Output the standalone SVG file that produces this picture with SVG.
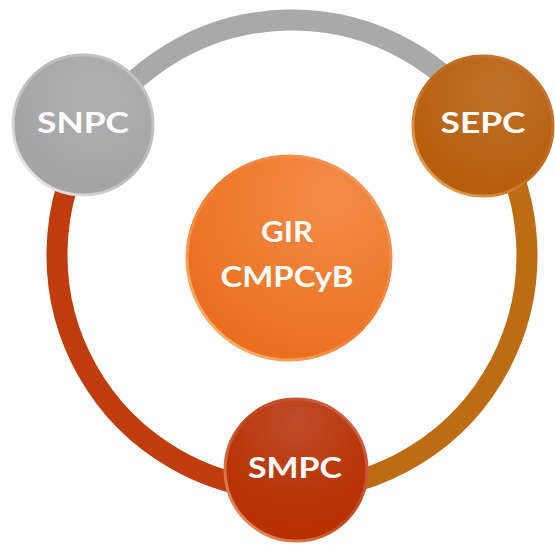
<svg xmlns="http://www.w3.org/2000/svg" width="555" height="545" viewBox="0 0 555 545">
<defs>
<style>
.lbl{font-family:Lato,"Open Sans","DejaVu Sans",sans-serif;font-weight:bold;font-size:29px;fill:#ffffff;text-anchor:middle}
.ring{fill:none;stroke-width:21;stroke-linecap:butt}
.rim{fill:none;stroke-width:3}
</style>
<radialGradient id="gGray" cx="0.6" cy="0.3" r="0.8">
<stop offset="0" stop-color="#b0b0b0"/><stop offset="1" stop-color="#a2a2a2"/>
</radialGradient>
<radialGradient id="gSepc" cx="0.6" cy="0.25" r="0.8">
<stop offset="0" stop-color="#c0702a"/><stop offset="1" stop-color="#b45c08"/>
</radialGradient>
<radialGradient id="gSmpc" cx="0.5" cy="0.15" r="0.85">
<stop offset="0" stop-color="#c04c2a"/><stop offset="0.6" stop-color="#b83608"/><stop offset="1" stop-color="#b83000"/>
</radialGradient>
<radialGradient id="gCtr" cx="0.7" cy="0.2" r="0.9">
<stop offset="0" stop-color="#f28c48"/><stop offset="0.6" stop-color="#ee7a2c"/><stop offset="1" stop-color="#e86c1c"/>
</radialGradient>
<linearGradient id="rimGray" x1="1" y1="0" x2="0" y2="1">
<stop offset="0" stop-color="#c8c8c8"/><stop offset="0.5" stop-color="#b8b8b8"/><stop offset="1" stop-color="#f4f4f4"/>
</linearGradient>
<linearGradient id="rimSepc" x1="1" y1="0" x2="0" y2="1">
<stop offset="0" stop-color="#c67a36"/><stop offset="0.5" stop-color="#bf6a1a"/><stop offset="1" stop-color="#f0b060"/>
</linearGradient>
<linearGradient id="rimSmpc" x1="1" y1="0" x2="0" y2="1">
<stop offset="0" stop-color="#d06a50"/><stop offset="0.5" stop-color="#c04418"/><stop offset="1" stop-color="#f0a070"/>
</linearGradient>
<linearGradient id="rimCtr" x1="1" y1="0" x2="0" y2="1">
<stop offset="0" stop-color="#f5a068"/><stop offset="0.5" stop-color="#ee7c30"/><stop offset="1" stop-color="#fbc080"/>
</linearGradient>
</defs>
<rect width="555" height="545" fill="#ffffff"/>
<g id="connectors">
<path class="ring" stroke="#a9a9a9" d="M 92.7 130.5 A 235 235 0 0 1 486.8 123.6"/>
<path class="ring" stroke="#bd6c14" d="M 486.8 123.6 A 235 235 0 0 1 296.1 490"/>
<path class="ring" stroke="#c03c0c" d="M 296.1 490 A 235 235 0 0 1 92.7 130.5"/>
</g>
<g id="snpc">
<circle cx="83" cy="125" r="71" fill="url(#gGray)"/>
<circle cx="83" cy="125" r="70" class="rim" stroke="url(#rimGray)"/>
<text class="lbl" x="83" y="133" textLength="92" lengthAdjust="spacingAndGlyphs">SNPC</text>
</g>
<g id="sepc">
<circle cx="483" cy="126" r="71" fill="url(#gSepc)"/>
<circle cx="483" cy="126" r="70" class="rim" stroke="url(#rimSepc)"/>
<text class="lbl" x="483" y="133" textLength="85" lengthAdjust="spacingAndGlyphs">SEPC</text>
</g>
<g id="smpc">
<circle cx="296" cy="470" r="72" fill="url(#gSmpc)"/>
<circle cx="296" cy="470" r="71" class="rim" stroke="url(#rimSmpc)"/>
<text class="lbl" x="295" y="478" textLength="94" lengthAdjust="spacingAndGlyphs">SMPC</text>
</g>
<g id="gir">
<circle cx="289" cy="258" r="103" fill="url(#gCtr)"/>
<circle cx="289" cy="258" r="102" class="rim" stroke="url(#rimCtr)"/>
<text class="lbl" x="287" y="242" textLength="52" lengthAdjust="spacingAndGlyphs">GIR</text>
<text class="lbl" x="287" y="287" textLength="133" lengthAdjust="spacingAndGlyphs">CMPCyB</text>
</g>
</svg>
